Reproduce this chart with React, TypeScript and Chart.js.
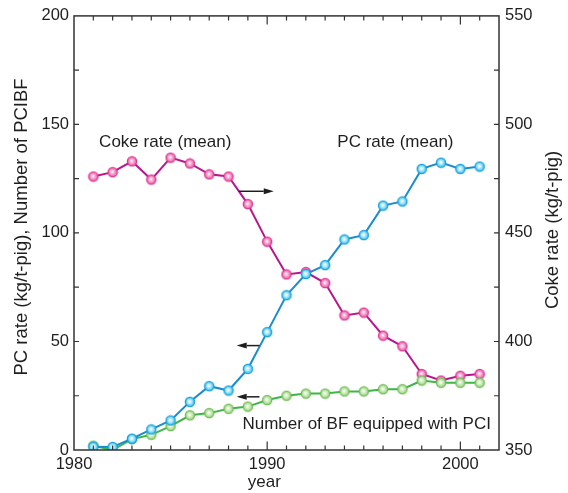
import { useEffect, useRef } from 'react';
import { Chart, registerables } from 'chart.js';

Chart.register(...registerables);

// ---- data ----
const years = [1981, 1982, 1983, 1984, 1985, 1986, 1987, 1988, 1989, 1990, 1991, 1992, 1993, 1994, 1995, 1996, 1997, 1998, 1999, 2000, 2001];
const cokeRate = [476, 478, 483, 474.6, 484.7, 482, 477, 476, 463.3, 446, 430.9, 432, 426.9, 412, 413.3, 402.7, 397.8, 385, 382, 384.2, 385];
const pcRate = [1.5, 1.4, 5.2, 9.5, 13.6, 22.2, 29.4, 27.4, 37.4, 54.3, 71.3, 81.1, 85.2, 97, 99, 112.6, 114.5, 129.5, 132.4, 129.5, 130.6];
const bfCount = [2, 0, 5, 7, 11, 16, 17, 19, 20, 23, 25, 26, 26, 27, 27, 28, 28, 32, 31, 31, 31];

const xLabelYears = [1980, 1990, 2000];
const leftTickLabels = [0, 50, 100, 150, 200];
const rightTickLabels = [350, 400, 450, 500, 550];

const leftTitle = 'PC rate (kg/t-pig), Number of PCIBF';
const rightTitle = 'Coke rate (kg/t-pig)';
const xTitle = 'year';

// annotations (data units: year, left-axis value)
const noteTexts = ['Coke rate (mean)', 'PC rate (mean)', 'Number of BF equipped with PCI'];
const noteYears = [1981.3, 1993.63, 1988.72];
const noteValues = [139.4, 139.4, 9.9];
const arrowTailYears = [1988.53, 1989.6, 1989.6];
const arrowHeadYears = [1990.34, 1988.42, 1988.42];
const arrowValues = [119.2, 48.1, 24.5];

const FONT = '"Liberation Sans", Arial, Helvetica, sans-serif';
const AXIS = '#333333';
const TEXT = '#1e1e1e';

function makeMarker(light: string, mid: string, edge: string) {
  const s = 12;
  const c = document.createElement('canvas');
  c.width = s;
  c.height = s;
  const g = c.getContext('2d')!;
  const r = 4.6;
  const cx = 6;
  const grad = g.createRadialGradient(cx - 0.5, cx - 0.5, 0.3, cx, cx, r);
  grad.addColorStop(0, '#ffffff');
  grad.addColorStop(0.35, light);
  grad.addColorStop(1, mid);
  g.beginPath();
  g.arc(cx, cx, r, 0, Math.PI * 2);
  g.fillStyle = grad;
  g.fill();
  g.lineWidth = 1.3;
  g.strokeStyle = edge;
  g.stroke();
  return c;
}

const decorPlugin = {
  id: 'decor',
  afterDraw(chart: any) {
    const { ctx, chartArea: a, scales } = chart;
    const x = scales.x;
    const y = scales.y;
    const y2 = scales.y2;
    ctx.save();
    // frame
    ctx.strokeStyle = AXIS;
    ctx.lineWidth = 1.5;
    ctx.strokeRect(a.left, a.top, a.right - a.left, a.bottom - a.top);
    // inward ticks
    ctx.lineWidth = 1.2;
    ctx.beginPath();
    x.ticks.forEach((t: any) => {
      if (t.value <= x.min || t.value >= x.max) return;
      const px = x.getPixelForValue(t.value);
      const len = t.value % 10 === 0 ? 8.5 : 4.5;
      ctx.moveTo(px, a.bottom);
      ctx.lineTo(px, a.bottom - len);
      ctx.moveTo(px, a.top);
      ctx.lineTo(px, a.top + len);
    });
    y.ticks.forEach((t: any) => {
      if (t.value <= y.min || t.value >= y.max) return;
      const py = y.getPixelForValue(t.value);
      ctx.moveTo(a.left, py);
      ctx.lineTo(a.left + 5, py);
    });
    y2.ticks.forEach((t: any) => {
      if (t.value <= y2.min || t.value >= y2.max) return;
      const py = y2.getPixelForValue(t.value);
      ctx.moveTo(a.right, py);
      ctx.lineTo(a.right - 5, py);
    });
    ctx.stroke();

    // annotation texts
    ctx.fillStyle = TEXT;
    ctx.font = `17px ${FONT}`;
    ctx.textAlign = 'left';
    ctx.textBaseline = 'alphabetic';
    noteTexts.forEach((s, i) => {
      ctx.fillText(s, x.getPixelForValue(noteYears[i]), y.getPixelForValue(noteValues[i]));
    });

    // arrows
    ctx.strokeStyle = '#1e1e1e';
    ctx.fillStyle = '#1e1e1e';
    ctx.lineWidth = 1.5;
    arrowValues.forEach((v, i) => {
      const py = y.getPixelForValue(v);
      const tx = x.getPixelForValue(arrowTailYears[i]);
      const hx = x.getPixelForValue(arrowHeadYears[i]);
      const dir = hx > tx ? 1 : -1;
      const headLen = 10;
      ctx.beginPath();
      ctx.moveTo(tx, py);
      ctx.lineTo(hx - dir * headLen, py);
      ctx.stroke();
      ctx.beginPath();
      ctx.moveTo(hx, py);
      ctx.lineTo(hx - dir * headLen, py - 3);
      ctx.lineTo(hx - dir * headLen, py + 3);
      ctx.closePath();
      ctx.fill();
    });

    // axis titles
    ctx.fillStyle = TEXT;
    ctx.font = `18.5px ${FONT}`;
    ctx.textAlign = 'center';
    ctx.textBaseline = 'middle';
    const cy = (a.top + a.bottom) / 2;
    ctx.save();
    ctx.translate(22, cy - 6);
    ctx.rotate(-Math.PI / 2);
    ctx.fillText(leftTitle, 0, 0);
    ctx.restore();
    ctx.save();
    ctx.translate(a.right + 54, cy - 3);
    ctx.rotate(-Math.PI / 2);
    ctx.fillText(rightTitle, 0, 0);
    ctx.restore();
    ctx.font = `17px ${FONT}`;
    ctx.textBaseline = 'alphabetic';
    ctx.fillText(xTitle, x.getPixelForValue(1989.85), a.bottom + 37);
    ctx.restore();
  },
};

export default function App() {
  const ref = useRef<HTMLCanvasElement | null>(null);

  useEffect(() => {
    document.body.style.margin = '0';
    const canvas = ref.current!;
    const pinkMarker = makeMarker('#f9b3d6', '#ee5fa9', '#de3692');
    const blueMarker = makeMarker('#bdedfc', '#3cc2f0', '#169fdc');
    const greenMarker = makeMarker('#d9f0cb', '#9ad47c', '#6fbd58');

    const chart = new Chart(canvas, {
      type: 'line',
      data: {
        datasets: [
          {
            label: 'PC rate (mean)',
            data: years.map((yr, i) => ({ x: yr, y: pcRate[i] })),
            yAxisID: 'y',
            borderColor: '#1b8dcf',
            borderWidth: 2,
            pointStyle: blueMarker as any,
            pointRadius: 4,
            order: 0,
          },
          {
            label: 'Number of BF equipped with PCI',
            data: years.map((yr, i) => ({ x: yr, y: bfCount[i] })),
            yAxisID: 'y',
            borderColor: '#3db548',
            borderWidth: 2,
            pointStyle: greenMarker as any,
            pointRadius: 4,
            order: 1,
          },
          {
            label: 'Coke rate (mean)',
            data: years.map((yr, i) => ({ x: yr, y: cokeRate[i] })),
            yAxisID: 'y2',
            borderColor: '#b8168c',
            borderWidth: 2,
            pointStyle: pinkMarker as any,
            pointRadius: 4,
            order: 2,
          },
        ],
      },
      options: {
        responsive: false,
        animation: false,
        layout: { padding: { top: 15, left: 0, right: 0, bottom: 0 } },
        plugins: { legend: { display: false }, tooltip: { enabled: false } },
        elements: { line: { tension: 0 } },
        scales: {
          x: {
            type: 'linear',
            min: 1980,
            max: 2002,
            grid: { display: false, drawTicks: false },
            border: { display: false },
            ticks: {
              stepSize: 1,
              autoSkip: false,
              maxRotation: 0,
              padding: 5,
              color: TEXT,
              font: { family: FONT, size: 16.5 },
              callback: (v: any) => (xLabelYears.includes(Number(v)) ? String(v) : ''),
            },
            afterFit: (s: any) => {
              s.height = 43;
            },
          },
          y: {
            type: 'linear',
            position: 'left',
            min: 0,
            max: 200,
            grid: { display: false, drawTicks: false },
            border: { display: false },
            ticks: {
              stepSize: 25,
              padding: 5,
              color: TEXT,
              font: { family: FONT, size: 16.5 },
              callback: (v: any) => (leftTickLabels.includes(Number(v)) ? String(v) : ''),
            },
            afterFit: (s: any) => {
              s.width = 74;
            },
          },
          y2: {
            type: 'linear',
            position: 'right',
            min: 350,
            max: 550,
            grid: { display: false, drawTicks: false },
            border: { display: false },
            ticks: {
              stepSize: 25,
              padding: 6,
              color: TEXT,
              font: { family: FONT, size: 16.5 },
              callback: (v: any) => (rightTickLabels.includes(Number(v)) ? String(v) : ''),
            },
            afterFit: (s: any) => {
              s.width = 69;
            },
          },
        },
      },
      plugins: [decorPlugin],
    });
    return () => chart.destroy();
  }, []);

  return (
    <div style={{ width: 568, height: 493, background: '#ffffff' }}>
      <canvas ref={ref} width={568} height={493} style={{ display: 'block' }} />
    </div>
  );
}
